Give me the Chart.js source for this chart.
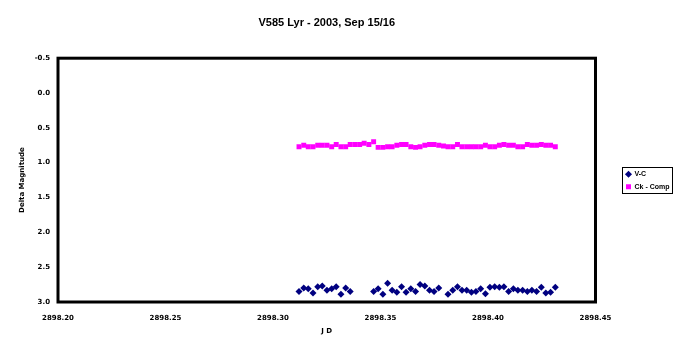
<!DOCTYPE html>
<html>
<head>
<meta charset="utf-8">
<script src="https://cdn.jsdelivr.net/npm/chart.js@4/dist/chart.umd.min.js"></script>
<style>
  html, body { margin: 0; padding: 0; background: #fff; }
  #wrap { width: 680px; height: 353px; }
</style>
</head>
<body>
<div id="wrap"><canvas id="lightcurve" width="680" height="353"></canvas></div>
<script>
// JD - 2450000, one entry per observation
const jd = [
  2898.3121, 2898.3143, 2898.3164, 2898.3186, 2898.3208, 2898.3229, 2898.3251, 2898.3273,
  2898.3294, 2898.3316, 2898.3338, 2898.3359, 2898.3381, 2898.3403, 2898.3424, 2898.3446,
  2898.3468, 2898.3489, 2898.3511, 2898.3533, 2898.3554, 2898.3576, 2898.3598, 2898.3619,
  2898.3641, 2898.3663, 2898.3684, 2898.3706, 2898.3728, 2898.3749, 2898.3771, 2898.3793,
  2898.3814, 2898.3836, 2898.3858, 2898.3879, 2898.3901, 2898.3923, 2898.3944, 2898.3966,
  2898.3988, 2898.4009, 2898.4031, 2898.4053, 2898.4074, 2898.4096, 2898.4118, 2898.4139,
  2898.4161, 2898.4183, 2898.4204, 2898.4226, 2898.4248, 2898.4269, 2898.4291, 2898.4313
];

// variable minus comparison (null = no measurement)
const vMinusC = [
  2.85, 2.80, 2.81, 2.87, 2.78, 2.77, 2.83, 2.81,
  2.78, 2.89, 2.80, 2.85, null, null, null, null,
  2.85, 2.81, 2.89, 2.73, 2.83, 2.86, 2.78, 2.86,
  2.81, 2.85, 2.75, 2.77, 2.83, 2.85, 2.80, null,
  2.89, 2.83, 2.78, 2.83, 2.83, 2.86, 2.85, 2.81,
  2.88, 2.79, 2.78, 2.79, 2.78, 2.85, 2.81, 2.83,
  2.83, 2.85, 2.83, 2.85, 2.79, 2.87, 2.86, 2.79
];

// check minus comparison
const ckMinusComp = [
  0.77, 0.75, 0.77, 0.77, 0.75, 0.75, 0.75, 0.77,
  0.74, 0.77, 0.77, 0.74, 0.74, 0.74, 0.72, 0.74,
  0.70, 0.78, 0.78, 0.77, 0.77, 0.75, 0.74, 0.74,
  0.77, 0.78, 0.77, 0.75, 0.74, 0.74, 0.75, 0.76,
  0.77, 0.77, 0.74, 0.77, 0.77, 0.77, 0.77, 0.77,
  0.75, 0.77, 0.77, 0.75, 0.74, 0.75, 0.75, 0.77,
  0.77, 0.74, 0.75, 0.75, 0.74, 0.75, 0.75, 0.77
];

const xTicks = [2898.20, 2898.25, 2898.30, 2898.35, 2898.40, 2898.45];
const yTicks = [-0.5, 0.0, 0.5, 1.0, 1.5, 2.0, 2.5, 3.0];

const seriesNames = ['V-C', 'Ck - Comp'];

const tickFont = { family: 'DejaVu Sans', size: 7, weight: 'bold' };

const toPoints = (ys) => jd.map((x, i) => ({ x: x, y: ys[i] }));

// thick black frame round the plot area
const frame = {
  id: 'frame',
  beforeDatasetsDraw(chart) {
    const a = chart.chartArea;
    const ctx = chart.ctx;
    ctx.save();
    ctx.strokeStyle = '#000';
    ctx.lineWidth = 3;
    ctx.strokeRect(a.left, a.top, a.right - a.left, a.bottom - a.top);
    ctx.restore();
  }
};

// move the legend away from the plot and box it in
const legendBox = {
  id: 'legendBox',
  afterLayout(chart) {
    const lg = chart.legend;
    lg.left += 25; lg.right += 25;
    lg.top += 4; lg.bottom += 4;
  },
  afterDraw(chart) {
    const boxes = chart.legend.legendHitBoxes;
    if (!boxes || !boxes.length) return;
    let l = Infinity, t = Infinity, r = -Infinity, b = -Infinity;
    boxes.forEach((hb) => {
      l = Math.min(l, hb.left);
      t = Math.min(t, hb.top);
      r = Math.max(r, hb.left + hb.width);
      b = Math.max(b, hb.top + hb.height);
    });
    const ctx = chart.ctx;
    ctx.save();
    ctx.strokeStyle = '#000';
    ctx.lineWidth = 1;
    ctx.strokeRect(Math.round(l - 4) + 0.5, Math.round(t - 4) + 0.5, Math.round(r - l + 6), Math.round(b - t + 6));
    ctx.restore();
  }
};

Chart.defaults.color = '#000';

new Chart(document.getElementById('lightcurve'), {
  type: 'scatter',
  data: {
    datasets: [
      {
        label: seriesNames[0],
        data: toPoints(vMinusC),
        pointStyle: 'rectRot',
        pointRadius: 3.5,
        pointHoverRadius: 3.5,
        backgroundColor: '#000080',
        borderColor: '#000080',
        borderWidth: 0
      },
      {
        label: seriesNames[1],
        data: toPoints(ckMinusComp),
        pointStyle: 'rect',
        pointRadius: 3.5,
        pointHoverRadius: 3.5,
        backgroundColor: '#ff00ff',
        borderColor: '#ff00ff',
        borderWidth: 0
      }
    ]
  },
  options: {
    responsive: false,
    animation: false,
    layout: { padding: { left: 0, right: 25.5, top: 0, bottom: 0 } },
    plugins: {
      title: {
        display: true,
        text: 'V585 Lyr - 2003, Sep 15/16',
        fullSize: false,
        color: '#000',
        font: { family: 'Liberation Sans', size: 11, weight: 'bold' },
        padding: { top: 16, bottom: 29 }
      },
      legend: {
        position: 'right',
        labels: {
          usePointStyle: true,
          boxWidth: 5,
          boxHeight: 5,
          padding: 5.5,
          textAlign: 'left',
          color: '#000',
          font: { family: 'Liberation Sans', size: 7, weight: 'bold' }
        }
      },
      tooltip: { enabled: false }
    },
    scales: {
      x: {
        type: 'linear',
        position: 'bottom',
        min: 2898.20,
        max: 2898.45,
        grid: { display: false, drawTicks: false },
        border: { display: false },
        afterBuildTicks: (scale) => { scale.ticks = xTicks.map((v) => ({ value: v })); },
        afterFit: (scale) => { scale.height = 51; },
        ticks: {
          autoSkip: false,
          maxRotation: 0,
          padding: 12,
          font: tickFont,
          color: '#000',
          callback: (v) => Number(v).toFixed(2)
        },
        title: {
          display: true,
          text: 'J D',
          color: '#000',
          font: tickFont,
          padding: { top: 0, bottom: 18 }
        }
      },
      y: {
        type: 'linear',
        reverse: true,
        min: -0.5,
        max: 3.0,
        grid: { display: false, drawTicks: false },
        border: { display: false },
        afterBuildTicks: (scale) => { scale.ticks = yTicks.map((v) => ({ value: v })); },
        afterFit: (scale) => { scale.width = 58; },
        ticks: {
          autoSkip: false,
          padding: 8,
          font: tickFont,
          color: '#000',
          callback: (v) => Number(v).toFixed(1)
        },
        title: {
          display: true,
          text: 'Delta Magnitude',
          color: '#000',
          font: tickFont,
          padding: { top: 18, bottom: 0 }
        }
      }
    }
  },
  plugins: [frame, legendBox]
});
</script>
</body>
</html>
